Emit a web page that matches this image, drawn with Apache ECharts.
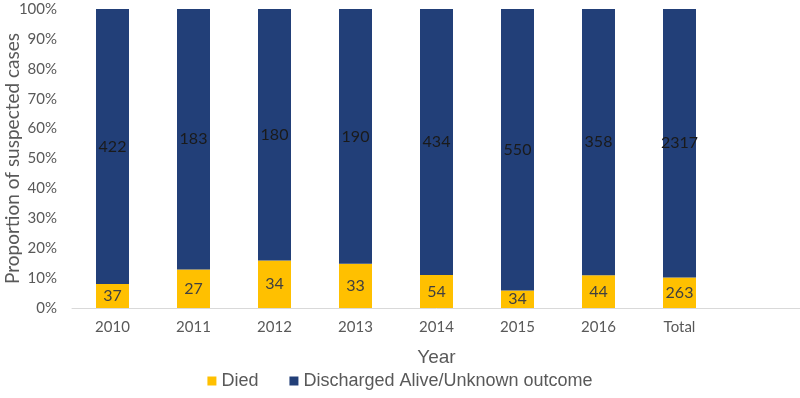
<!DOCTYPE html>
<html>
<head>
<meta charset="utf-8">
<script src="https://cdn.jsdelivr.net/npm/echarts@6/dist/echarts.min.js"></script>
<style>
  html, body { margin: 0; padding: 0; background: #fff; }
  #chart { width: 800px; height: 398px; }
</style>
</head>
<body>
<div id="chart"></div>
<script>
// categories (last slot is empty in the original, axis runs on past "Total")
const years = ["2010", "2011", "2012", "2013", "2014", "2015", "2016", "Total", ""];
const died = [37, 27, 34, 33, 54, 34, 44, 263];
const discharged = [422, 183, 180, 190, 434, 550, 358, 2317];
const yTicks = [0, 10, 20, 30, 40, 50, 60, 70, 80, 90, 100];

const share = (arr) => arr.map((v, i) => v / (died[i] + discharged[i]) * 100);

const chart = echarts.init(document.getElementById("chart"));
const labelFont = "Lato, 'Open Sans', sans-serif";
const arial = "'Liberation Sans', Arial, sans-serif";

chart.setOption({
  backgroundColor: "#fff",
  animation: false,
  grid: { left: 72, right: -1, top: 9, bottom: 90, outerBoundsMode: "none", containLabel: false },
  legend: {
    bottom: 3,
    left: "center",
    itemWidth: 9,
    itemHeight: 9,
    itemGap: 31,
    icon: "rect",
    textStyle: { color: "#595959", fontSize: 18, fontFamily: arial },
    data: ["Died", "Discharged Alive/Unknown outcome"],
  },
  xAxis: {
    type: "category",
    data: years,
    name: "Year",
    nameLocation: "middle",
    nameGap: 40,
    nameTextStyle: { color: "#595959", fontSize: 19, fontFamily: arial },
    axisLine: { lineStyle: { color: "#d9d9d9", width: 1 } },
    axisTick: { show: false },
    axisLabel: { color: "#595959", fontSize: 15, margin: 12, fontFamily: labelFont },
  },
  yAxis: {
    type: "value",
    min: 0,
    max: 100,
    interval: 10,
    name: "Proportion of suspected cases",
    nameLocation: "middle",
    nameGap: 50,
    nameMoveOverlap: false,
    nameTextStyle: { color: "#595959", fontSize: 19, fontFamily: labelFont },
    axisLine: { show: false },
    axisTick: { show: false },
    splitLine: { show: false },
    axisLabel: {
      color: "#595959",
      fontSize: 15,
      margin: 15,
      fontFamily: labelFont,
      formatter: (v) => (yTicks.includes(v) ? v + "%" : ""),
    },
  },
  series: [
    {
      name: "Died",
      type: "bar",
      stack: "all",
      barWidth: 33,
      itemStyle: { color: "#FFC000" },
      label: {
        show: true,
        position: "inside",
        color: "#404040",
        fontSize: 16,
        fontFamily: labelFont,
        formatter: (p) => died[p.dataIndex],
      },
      data: share(died),
    },
    {
      name: "Discharged Alive/Unknown outcome",
      type: "bar",
      stack: "all",
      barWidth: 33,
      itemStyle: { color: "#223F78" },
      label: {
        show: true,
        position: "inside",
        color: "#1a1a1a",
        fontSize: 16,
        fontFamily: labelFont,
        formatter: (p) => discharged[p.dataIndex],
      },
      data: share(discharged),
    },
  ],
});
</script>
</body>
</html>
